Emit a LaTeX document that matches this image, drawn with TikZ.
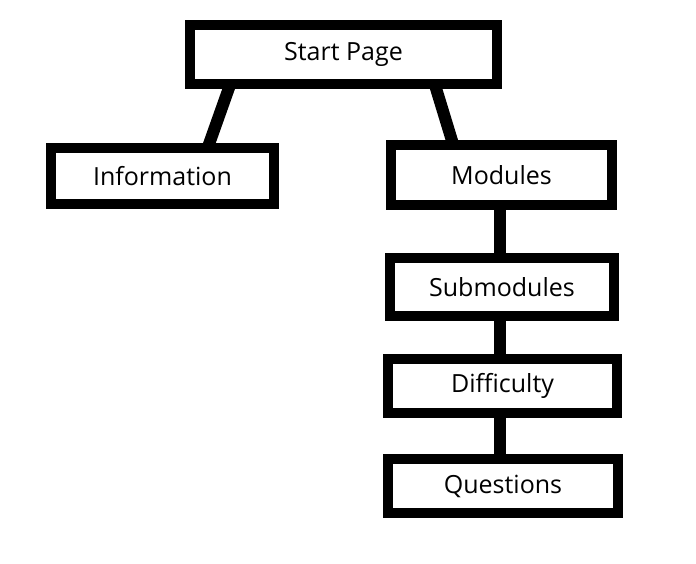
\documentclass[tikz,border=0pt]{standalone}
\usepackage{fontspec}
\setmainfont{Open Sans}
\begin{document}
\begin{tikzpicture}[x=1pt,y=-1pt,
  box/.style={draw=black,line width=10pt,fill=white,inner sep=0pt,font=\fontsize{25}{30}\selectfont},
  conn/.style={line width=12pt,draw=black}]
\useasboundingbox[fill=white] (0,0) rectangle (696,564);
\node[box,minimum width=307pt,minimum height=59pt] (start) at (343.5,54.5) {Start Page};
\node[box,minimum width=223pt,minimum height=56pt] (info) at (162.5,176) {Information};
\node[box,minimum width=221pt,minimum height=60pt] (mod) at (501.5,175) {Modules};
\node[box,minimum width=224pt,minimum height=58pt] (sub) at (502,287) {Submodules};
\node[box,minimum width=229pt,minimum height=54pt] (diff) at (502.5,386) {Difficulty};
\node[box,minimum width=230pt,minimum height=54pt] (quest) at (503,486) {Questions};
\draw[conn] ([xshift=-113.5pt,yshift=4pt]start.south) -- ([xshift=45.5pt,yshift=-4pt]info.north);
\draw[conn] ([xshift=91.5pt,yshift=4pt]start.south) -- ([xshift=-48.5pt,yshift=-4pt]mod.north);
\draw[conn] ([xshift=-1.5pt,yshift=4pt]mod.south) -- ([xshift=-2pt,yshift=-4pt]sub.north);
\draw[conn] ([xshift=-2pt,yshift=4pt]sub.south) -- ([xshift=-2.5pt,yshift=-4pt]diff.north);
\draw[conn] ([xshift=-2.5pt,yshift=4pt]diff.south) -- ([xshift=-3pt,yshift=-4pt]quest.north);
\end{tikzpicture}
\end{document}
